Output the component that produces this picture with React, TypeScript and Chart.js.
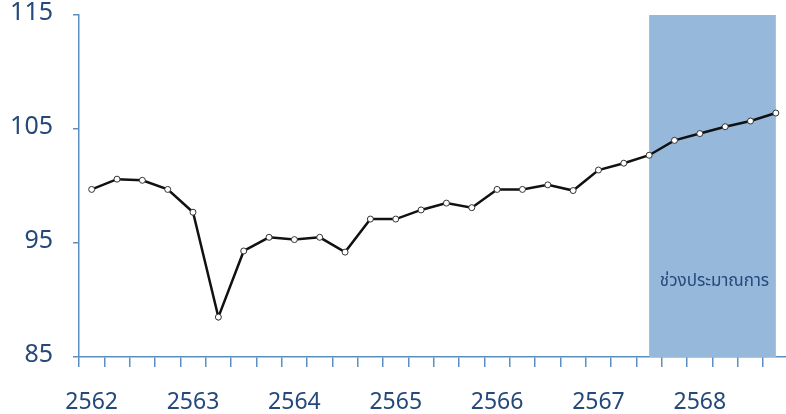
import React, { useEffect, useRef } from "react";
import { Chart, registerables } from "chart.js";

Chart.register(...registerables);

const years = ["2562", "2563", "2564", "2565", "2566", "2567", "2568"];
const quarters = ["Q1", "Q2", "Q3", "Q4"];
const categories: string[] = years.flatMap((y) => quarters.map((q) => `${y} ${q}`));

const indexValues = [
  99.7, 100.6, 100.5, 99.7,
  97.7, 88.5, 94.3, 95.5,
  95.3, 95.5, 94.2, 97.1,
  97.1, 97.9, 98.5, 98.1,
  99.7, 99.7, 100.1, 99.6,
  101.4, 102.0, 102.7, 104.0,
  104.6, 105.2, 105.7, 106.4,
];

const yTicks = [85, 95, 105, 115];
const forecastStart = "2567 Q3";
const forecastEnd = "2568 Q4";
const forecastLabel = "ช่วงประมาณการ";

const AXIS = "#5b8fc0";
const TEXT = "#24497a";
const SHADE = "#95b8db";
const FONT = "'Noto Sans Thai', 'Noto Sans', sans-serif";

const shadePlugin = {
  id: "forecastShade",
  beforeDatasetsDraw(chart: any) {
    const { ctx, chartArea, scales } = chart;
    const x = scales.x;
    const x0 = x.getPixelForValue(categories.indexOf(forecastStart));
    const x1 = x.getPixelForValue(categories.indexOf(forecastEnd));
    ctx.save();
    ctx.fillStyle = SHADE;
    ctx.fillRect(x0, chartArea.top, x1 - x0, chartArea.bottom - chartArea.top);
    ctx.fillStyle = TEXT;
    ctx.font = `17px ${FONT}`;
    ctx.textAlign = "center";
    ctx.textBaseline = "middle";
    ctx.fillText(forecastLabel, (x0 + x1) / 2 + 2, scales.y.getPixelForValue(91.5));
    ctx.restore();
  },
};

export default function App() {
  const ref = useRef<HTMLCanvasElement | null>(null);
  useEffect(() => {
    if (!ref.current) return;
    const chart = new Chart(ref.current, {
      type: "line",
      data: {
        labels: categories,
        datasets: [
          {
            data: indexValues,
            borderColor: "#111111",
            borderWidth: 2.5,
            pointRadius: 3,
            pointBackgroundColor: "#ffffff",
            pointBorderColor: "#333333",
            pointBorderWidth: 1,
            tension: 0,
          },
        ],
      },
      options: {
        animation: false,
        responsive: false,
        maintainAspectRatio: false,
        layout: { padding: { top: 15, right: 9, left: 0, bottom: 0 } },
        plugins: { legend: { display: false }, tooltip: { enabled: false } },
        scales: {
          x: {
            offset: true,
            border: { color: AXIS, width: 1.5 },
            grid: {
              offset: true,
              drawOnChartArea: false,
              drawTicks: true,
              tickLength: 10,
              color: AXIS,
              lineWidth: 1.5,
            },
            ticks: {
              autoSkip: false,
              maxRotation: 0,
              minRotation: 0,
              padding: 24,
              color: TEXT,
              font: { family: FONT, size: 23 },
              callback: (_v: any, i: number) => (i % 4 === 0 ? categories[i].split(" ")[0] : ""),
            },
            afterFit: (s: any) => {
              s.height = 57;
            },
          },
          y: {
            min: yTicks[0],
            max: yTicks[yTicks.length - 1],
            border: { color: AXIS, width: 1.5 },
            grid: {
              drawOnChartArea: false,
              drawTicks: true,
              tickLength: 6,
              color: AXIS,
              lineWidth: 1.5,
            },
            afterBuildTicks: (s: any) => {
              s.ticks = yTicks.map((v) => ({ value: v }));
            },
            ticks: {
              padding: 20,
              color: TEXT,
              font: { family: FONT, size: 25 },
            },
            afterFit: (s: any) => {
              s.width = 79;
            },
          },
        },
      },
      plugins: [shadePlugin],
    });
    return () => chart.destroy();
  }, []);
  return (
    <div style={{ position: "fixed", left: 0, top: 0, width: 786, height: 414, overflow: "hidden", background: "#fff" }}>
      <canvas ref={ref} width={800} height={434} style={{ display: "block", marginTop: -20 }} />
    </div>
  );
}
